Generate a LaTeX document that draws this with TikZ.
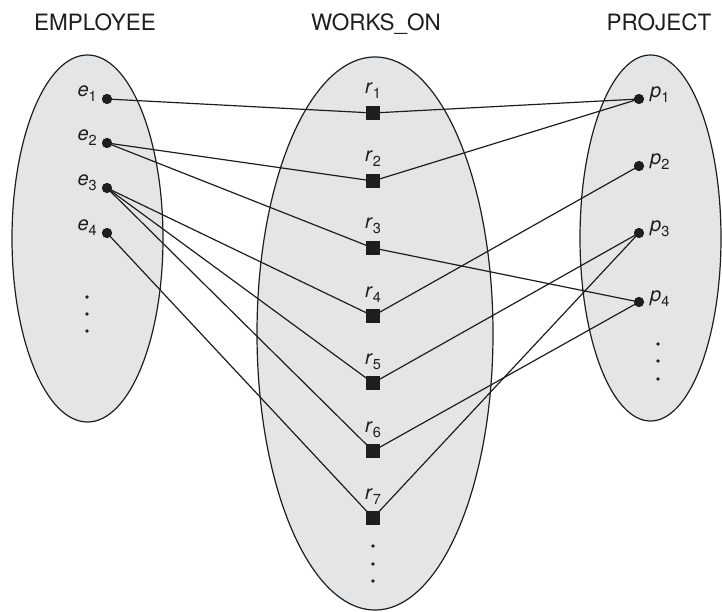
\documentclass[tikz,border=0pt]{standalone}
\usepackage{fontspec}
\setmainfont{TeX Gyre Heros}
\definecolor{setgray}{RGB}{228,229,231}
\definecolor{ink}{RGB}{30,30,30}
\newcommand{\sublab}[2]{\textit{#1}\raisebox{-5pt}{\fontsize{14.5}{14.5}\selectfont #2}}
\begin{document}
\begin{tikzpicture}[x=1pt,y=-1pt,
  setshape/.style={draw=ink, line width=1.2pt, fill=setgray},
  ent/.style={circle, fill=ink, inner sep=0pt, minimum size=10pt},
  rel/.style={rectangle, fill=ink, inner sep=0pt, minimum size=13.5pt},
  more/.style={circle, fill=ink, inner sep=0pt, minimum size=3.6pt},
  link/.style={draw=ink, line width=1.2pt},
  title/.style={font=\fontsize{22.5}{22.5}\selectfont, text=ink, anchor=base, inner sep=0pt},
  lab/.style={font=\fontsize{20}{20}\selectfont, text=ink, inner sep=0pt}
]
\useasboundingbox (0,0) rectangle (722,612);

% entity sets and relationship set
\draw[setshape] (87.5,238.5) ellipse [x radius=75.5, y radius=183.5];
\draw[setshape] (375,333.5) ellipse [x radius=118, y radius=276.5];
\draw[setshape] (650.5,238) ellipse [x radius=70.5, y radius=183];

% titles
\node[title] (tEmp) at (95,31) {EMPLOYEE};
\node[title] (tWork) at (376,31) {WORKS\_ON};
\node[title] (tProj) at (659,31) {PROJECT};

% employees
\foreach \i/\y in {1/99,2/143,3/188,4/233}{
  \node[ent] (e\i) at (107,\y) {};
  \node[lab, anchor=base east] (le\i) at ([shift={(-10,-2)}]e\i.center) {\sublab{e}{\i}};
}
% relationship instances
\foreach \i/\y in {1/113,2/181,3/248,4/316,5/383,6/451,7/518}{
  \node[rel] (r\i) at (373,\y) {};
  \node[lab, anchor=base] (lr\i) at ([shift={(0,-19)}]r\i.center) {\sublab{r}{\i}};
}
% projects
\foreach \i/\y in {1/99,2/166,3/233,4/302}{
  \node[ent] (p\i) at (639,\y) {};
  \node[lab, anchor=base west] (lp\i) at ([shift={(11,-1)}]p\i.center) {\sublab{p}{\i}};
}

% vertical ellipses marking further members
\foreach \k/\y in {a/297,b/314,c/331}{\node[more] (me\k) at (87,\y) {};}
\foreach \k/\y in {a/546,b/564,c/581}{\node[more] (mr\k) at (373,\y) {};}
\foreach \k/\y in {a/344,b/361,c/379}{\node[more] (mp\k) at (658,\y) {};}

% participation links
\foreach \e/\r in {1/1,2/2,2/3,3/4,3/5,3/6,4/7}{
  \draw[link] (e\e.center) -- (r\r.center);
}
\foreach \r/\p in {1/1,2/1,3/4,4/2,5/3,6/4,7/3}{
  \draw[link] (r\r.center) -- (p\p.center);
}
% redraw markers over the links
\foreach \i/\y in {1/99,2/143,3/188,4/233}{\node[ent] at (107,\y) {};}
\foreach \i/\y in {1/113,2/181,3/248,4/316,5/383,6/451,7/518}{\node[rel] at (373,\y) {};}
\foreach \i/\y in {1/99,2/166,3/233,4/302}{\node[ent] at (639,\y) {};}
\end{tikzpicture}
\end{document}
